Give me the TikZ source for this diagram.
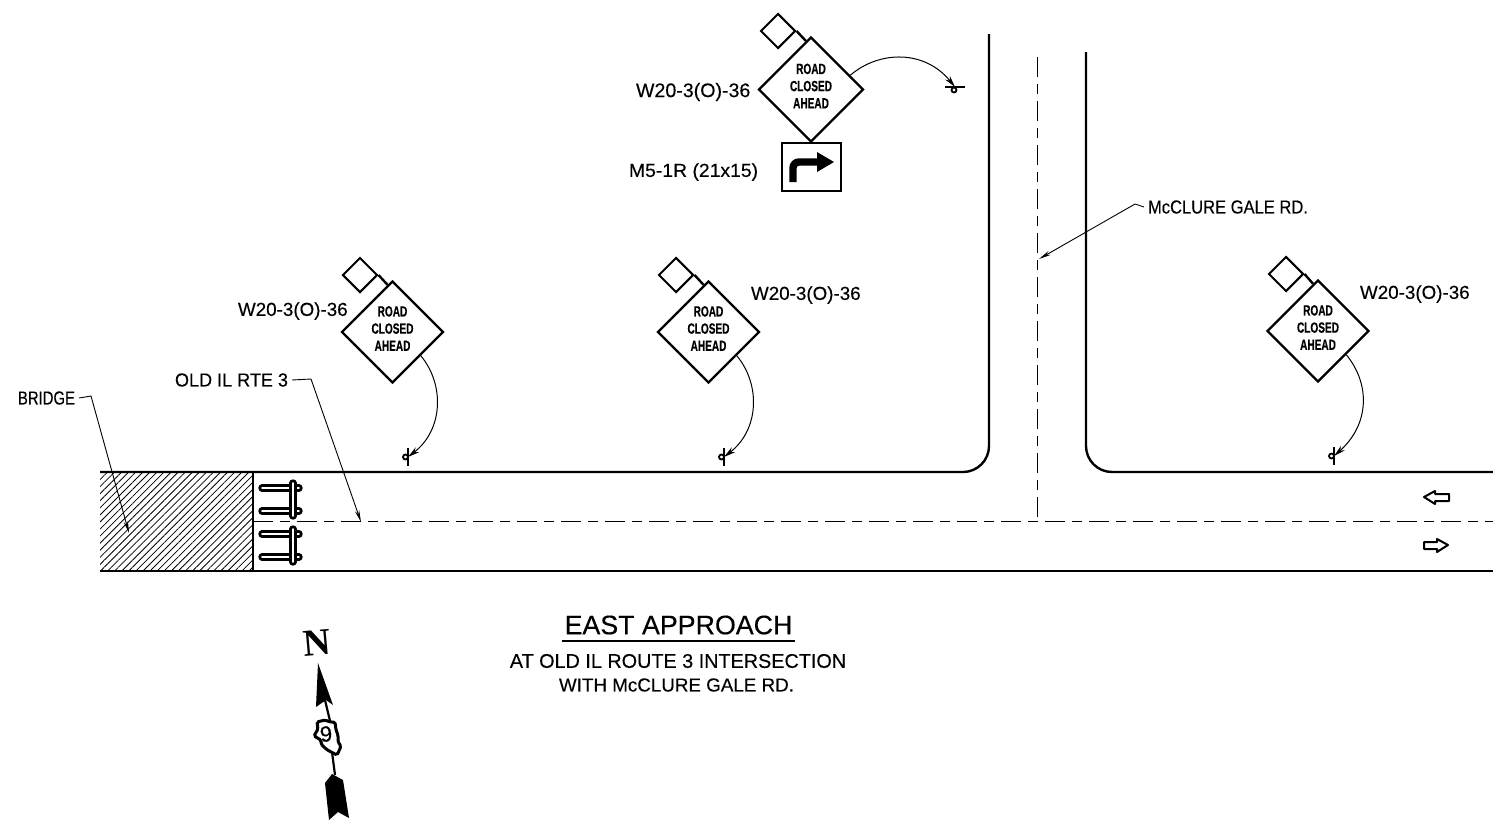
\documentclass[tikz,border=0pt]{standalone}
\usepackage{fontspec}
\setmainfont[FakeBold=0.25]{Liberation Sans}
\newfontfamily\signfont[FakeStretch=0.68,FakeBold=0.4]{Liberation Sans Bold}
\newfontfamily\northfont{Liberation Serif Bold}
\usetikzlibrary{shapes.geometric,arrows.meta,patterns.meta}
\tikzset{
  roadsign/.style={draw,diamond,line width=1.15pt,minimum width=51pt,minimum height=51pt,inner sep=0pt},
  signflag/.style={draw,diamond,line width=1pt,minimum width=17.5pt,minimum height=17.5pt,inner sep=0pt},
  signtext/.style={font=\fontsize{7.4}{8.6}\signfont,align=center,inner sep=0pt},
  label/.style={font=\fontsize{9.4}{12}\selectfont,inner sep=0pt,outer sep=2pt},
  edge/.style={line width=1.2pt},
  centerline/.style={line width=.45pt,dash pattern=on 10pt off 3.5pt on 5pt off 3.5pt},
  leader/.style={line width=.45pt,-{Stealth[length=6pt,width=2.2pt]}},
  swing/.style={line width=.5pt,-{Stealth[length=6pt,width=3pt]}},
  railbar/.style={line width=1.4pt,double=white,double distance=.9pt,line cap=round},
  lanearrow/.style={draw,line width=1pt,line join=round}
}
\begin{document}
\begin{tikzpicture}[x=.5pt,y=-.5pt]
\useasboundingbox (0,0) rectangle (1493,820);
% road
\fill[pattern={Lines[angle=45,distance=2.5pt,line width=.4pt]}] (100,472) rectangle (253,571);
\draw[edge,rounded corners=13pt] (100,472) -- (989,472) -- (989,34);
\draw[edge,rounded corners=13pt] (1086,52) -- (1086,472) -- (1493,472);
\draw[edge] (100,571) -- (1493,571);
\draw[edge] (253,472) -- (253,571);
\draw[centerline] (253,521) -- (1493,521);
\draw[centerline] (1037,57) -- (1037,521);
% barricades
\draw[railbar] (262,488) -- (299,488);
\draw[railbar] (262,511) -- (299,511);
\draw[railbar] (293,483) -- (293,516);
\draw[railbar] (262,534) -- (299,534);
\draw[railbar] (262,557) -- (299,557);
\draw[railbar] (293,529) -- (293,562);
% lane arrows
\draw[lanearrow] (1424,497) -- (1435,491) -- (1435,494) -- (1449,494) -- (1449,501) -- (1435,501) -- (1435,504) -- cycle;
\draw[lanearrow] (1448,545) -- (1437,539) -- (1437,542) -- (1424,542) -- (1424,549) -- (1437,549) -- (1437,552) -- cycle;
% signs
\node[roadsign,minimum width=52.5pt,minimum height=52.5pt] (signA) at (811,89.5) {};
\node[roadsign] (signB) at (392.5,332) {};
\node[roadsign] (signC) at (708.5,332) {};
\node[roadsign] (signD) at (1318,331) {};
\node[signtext] (textA) at (811,86) {ROAD\\CLOSED\\AHEAD};
\node[signtext] (textB) at (392.5,328.5) {ROAD\\CLOSED\\AHEAD};
\node[signtext] (textC) at (708.5,328.5) {ROAD\\CLOSED\\AHEAD};
\node[signtext] (textD) at (1318,327.5) {ROAD\\CLOSED\\AHEAD};
\node[signflag] (flagA) at (778,31) {};
\node[signflag] (flagB) at (360,275) {};
\node[signflag] (flagC) at (676,275) {};
\node[signflag] (flagD) at (1286,274) {};
\draw[edge] (flagA.east) -- (signA.96);
\draw[edge] (flagB.east) -- (signB.96);
\draw[edge] (flagC.east) -- (signC.96);
\draw[edge] (flagD.east) -- (signD.96);
% posts
\coordinate (postA) at (955,87);
\coordinate (postB) at (408,457);
\coordinate (postC) at (724,457);
\coordinate (postD) at (1334,456);
\draw[line width=.8pt] (945,87) -- (965,87);
\draw[line width=.9pt] (954,90) circle [radius=2.5];
\draw[line width=.8pt] (408,448) -- (408,466);
\draw[line width=.9pt] (405.5,457) circle [radius=2.5];
\draw[line width=.8pt] (724,448) -- (724,466);
\draw[line width=.9pt] (721.5,457) circle [radius=2.5];
\draw[line width=.8pt] (1334,447) -- (1334,465);
\draw[line width=.9pt] (1331.5,456) circle [radius=2.5];
\draw[swing] (signA.20) .. controls (880,50) and (925,50) .. (postA);
\draw[swing] (signB.-40) .. controls (445,385) and (443,430) .. (postB);
\draw[swing] (signC.-40) .. controls (761,385) and (759,430) .. (postC);
\draw[swing] (signD.-40) .. controls (1371,385) and (1369,425) .. (postD);
% route sign
\node[draw,line width=1.15pt,minimum width=29.5pt,minimum height=24pt,inner sep=0pt] (turnsign) at (811.5,167) {};
\draw[line width=3.7pt,rounded corners=3pt] (793,182) -- (793,162) -- (820,162);
\fill (817,152) -- (834,162) -- (817,172) -- cycle;
% labels
\node[label,anchor=west,font=\fontsize{9.8}{12}\selectfont] (labelA) at (632,92) {W20-3(O)-36};
\node[label,anchor=west] (labelB) at (234,311) {W20-3(O)-36};
\node[label,anchor=west] (labelC) at (747,295) {W20-3(O)-36};
\node[label,anchor=west] (labelD) at (1356,294) {W20-3(O)-36};
\node[label,anchor=west] (labelTurn) at (625,172) {\scalebox{1.03}[1]{M5-1R (21x15)}};
\node[label,anchor=west] (labelBridge) at (14,398) {\scalebox{.79}[1]{BRIDGE}};
\node[label,anchor=west] (labelOld) at (171,380) {\scalebox{.96}[1]{OLD IL RTE 3}};
\node[label,anchor=west] (labelGale) at (1144,207) {\scalebox{.88}[1]{McCLURE GALE RD.}};
\coordinate (bendBridge) at (91,396);
\coordinate (tipBridge) at (129,533);
\coordinate (bendOld) at (311,379);
\coordinate (tipOld) at (361,522);
\coordinate (bendGale) at (1135,204);
\coordinate (tipGale) at (1039,259);
\draw[leader] (labelBridge.east) -- (bendBridge) -- (tipBridge);
\draw[leader] (labelOld.east) -- (bendOld) -- (tipOld);
\draw[leader] (labelGale.west) -- (bendGale) -- (tipGale);
% title
\node[font=\fontsize{13.4}{16}\selectfont,inner sep=0pt] (title) at (678.5,625) {EAST APPROACH};
\coordinate (ruleL) at (562,641);
\coordinate (ruleR) at (795,641);
\draw[line width=.7pt] (ruleL) -- (ruleR);
\node[label,outer sep=0pt,font=\fontsize{9.9}{12}\selectfont] (subA) at (678,661) {AT OLD IL ROUTE 3 INTERSECTION};
\node[label,outer sep=0pt] (subB) at (676.5,685) {WITH McCLURE GALE RD.};
% north arrow
\node[font=\fontsize{19}{19}\northfont,inner sep=0pt,rotate=5] (north) at (317,643) {N};
\fill (318,663) -- (333,705) -- (326,700) -- (316,707) -- cycle;
\draw[line width=1.1pt] (325,700) -- (330,721);
\draw[line width=1.1pt] (332,752) -- (335,775);
\draw[line width=1.5pt,rounded corners=.8pt] (317,722) -- (325,720) -- (330,722) -- (335,722) -- (336,730) -- (338,735) -- (338,742) -- (341,746) -- (339,751) -- (337,755) -- (331,752) -- (326,749) -- (321,744) -- (321,740) -- (314,736) -- (318,729) -- cycle;
\node[font=\fontsize{11}{11}\selectfont,inner sep=0pt,rotate=5] (route) at (326,734) {9};
\fill (332,774) -- (343,780) -- (349,818) -- (338,812) -- (329,820) -- (325,783) -- cycle;
\end{tikzpicture}
\end{document}
